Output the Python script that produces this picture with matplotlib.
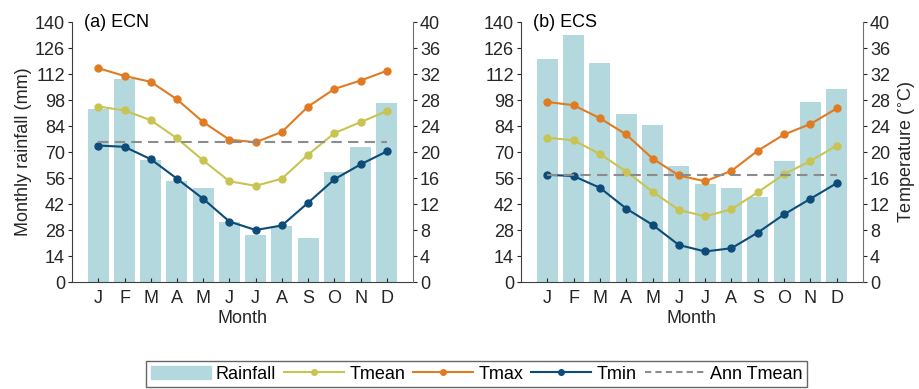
import matplotlib
matplotlib.use('Agg')
from matplotlib import pyplot as plt
from matplotlib.lines import Line2D
from matplotlib.patches import Patch

plt.rcParams['font.family'] = ['Liberation Sans', 'DejaVu Sans']
plt.rcParams['font.size'] = 13

months = ['J', 'F', 'M', 'A', 'M', 'J', 'J', 'A', 'S', 'O', 'N', 'D']
rain_ticks = [0, 14, 28, 42, 56, 70, 84, 98, 112, 126, 140]
temp_ticks = [0, 4, 8, 12, 16, 20, 24, 28, 32, 36, 40]

# (a) ECN
ecn_rain = [93.3, 109.1, 65.9, 54.2, 50.6, 32.3, 25.3, 30.2, 23.7, 59.2, 72.7, 96.4]
ecn_tmax = [32.9, 31.7, 30.8, 28.1, 24.6, 21.9, 21.5, 23.1, 27.0, 29.7, 31.0, 32.5]
ecn_tmean = [27.0, 26.4, 24.9, 22.1, 18.7, 15.5, 14.8, 15.9, 19.6, 22.9, 24.6, 26.3]
ecn_tmin = [21.0, 20.8, 18.9, 15.9, 12.8, 9.3, 8.0, 8.7, 12.2, 15.8, 18.1, 20.1]
ecn_ann = 21.5

# (b) ECS
ecs_rain = [120.1, 133.2, 117.9, 90.3, 84.4, 62.5, 52.8, 50.4, 45.8, 65.3, 96.9, 103.7]
ecs_tmax = [27.7, 27.2, 25.2, 22.7, 19.0, 16.4, 15.5, 17.1, 20.2, 22.7, 24.3, 26.7]
ecs_tmean = [22.2, 21.8, 19.7, 17.0, 13.9, 11.1, 10.1, 11.2, 13.8, 16.6, 18.6, 21.0]
ecs_tmin = [16.5, 16.3, 14.5, 11.3, 8.8, 5.7, 4.7, 5.2, 7.6, 10.4, 12.8, 15.2]
ecs_ann = 16.5

BAR_C = '#b3d8de'
TMEAN_C = '#c9c451'
TMAX_C = '#e07b22'
TMIN_C = '#0d4b78'
ANN_C = '#8c8c8c'
TXT_C = '#262626'
SPINE_C = '#404040'


def draw_panel(ax, rain, tmax, tmean, tmin, ann, title, left_label=None, right_label=None):
    x = list(range(1, 13))
    ax.bar(x, rain, width=0.8, color=BAR_C, zorder=1)
    ax.set_xlim(0, 13)
    ax.set_ylim(0, 140)
    ax.set_yticks(rain_ticks)
    ax.set_xticks(x)
    ax.set_xticklabels(months)
    ax.set_xlabel('Month', color=TXT_C, labelpad=2)
    if left_label:
        ax.set_ylabel(left_label, color=TXT_C, labelpad=2)
    ax.spines['top'].set_visible(False)
    ax.spines['right'].set_visible(False)
    for s in ['left', 'bottom']:
        ax.spines[s].set_color(SPINE_C)
    ax.tick_params(axis='y', direction='out', length=3, colors=TXT_C, pad=2)
    ax.tick_params(axis='x', direction='in', length=3, colors=TXT_C, pad=6)
    ax.text(0.035, 1.0, title, transform=ax.transAxes, ha='left', va='center',
            color='black')

    # temperatures on the right-hand axis
    tx = ax.twinx()
    tx.plot(x, tmean, color=TMEAN_C, marker='o', markersize=5, lw=1.5)
    tx.plot(x, tmax, color=TMAX_C, marker='o', markersize=5, lw=1.5)
    tx.plot(x, tmin, color=TMIN_C, marker='o', markersize=5, lw=1.5)
    tx.plot([1, 12], [ann, ann], color=ANN_C, ls=(0, (5, 3)), lw=1.5)
    tx.set_ylim(0, 40)
    tx.set_yticks(temp_ticks)
    tx.spines['top'].set_visible(False)
    tx.spines['left'].set_visible(False)
    tx.spines['bottom'].set_visible(False)
    tx.spines['right'].set_color('#707070')
    tx.tick_params(axis='y', direction='out', length=3, colors=TXT_C, pad=2)
    if right_label:
        tx.set_ylabel(right_label, color=TXT_C, labelpad=5)
    return tx


fig = plt.figure(figsize=(9.2, 3.89), dpi=100)
ax1 = fig.add_axes([0.0783, 0.275, 0.3707, 0.6684])
ax2 = fig.add_axes([0.5663, 0.275, 0.3717, 0.6684])

draw_panel(ax1, ecn_rain, ecn_tmax, ecn_tmean, ecn_tmin, ecn_ann, '(a) ECN',
           left_label='Monthly rainfall (mm)')
draw_panel(ax2, ecs_rain, ecs_tmax, ecs_tmean, ecs_tmin, ecs_ann, '(b) ECS',
           right_label=r'Temperature ($^{\circ}$C)')

handles = [
    Patch(facecolor=BAR_C, edgecolor=BAR_C),
    Line2D([], [], color=TMEAN_C, marker='o', markersize=4, lw=1.5),
    Line2D([], [], color=TMAX_C, marker='o', markersize=4, lw=1.5),
    Line2D([], [], color=TMIN_C, marker='o', markersize=4, lw=1.5),
    Line2D([], [], color=ANN_C, ls=(0, (3, 2)), lw=1.5),
]
labels = ['Rainfall', 'Tmean', 'Tmax', 'Tmin', 'Ann Tmean']
leg = fig.legend(handles, labels, loc='upper center', bbox_to_anchor=(0.518, 0.072),
                 ncol=5, frameon=True, fancybox=False, edgecolor=SPINE_C,
                 handlelength=3.3, handletextpad=0.3, columnspacing=0.45,
                 borderpad=0.25, borderaxespad=0)
leg.get_frame().set_linewidth(1.0)
for t in leg.get_texts():
    t.set_color('black')

fig.savefig('out.png', dpi=100)
